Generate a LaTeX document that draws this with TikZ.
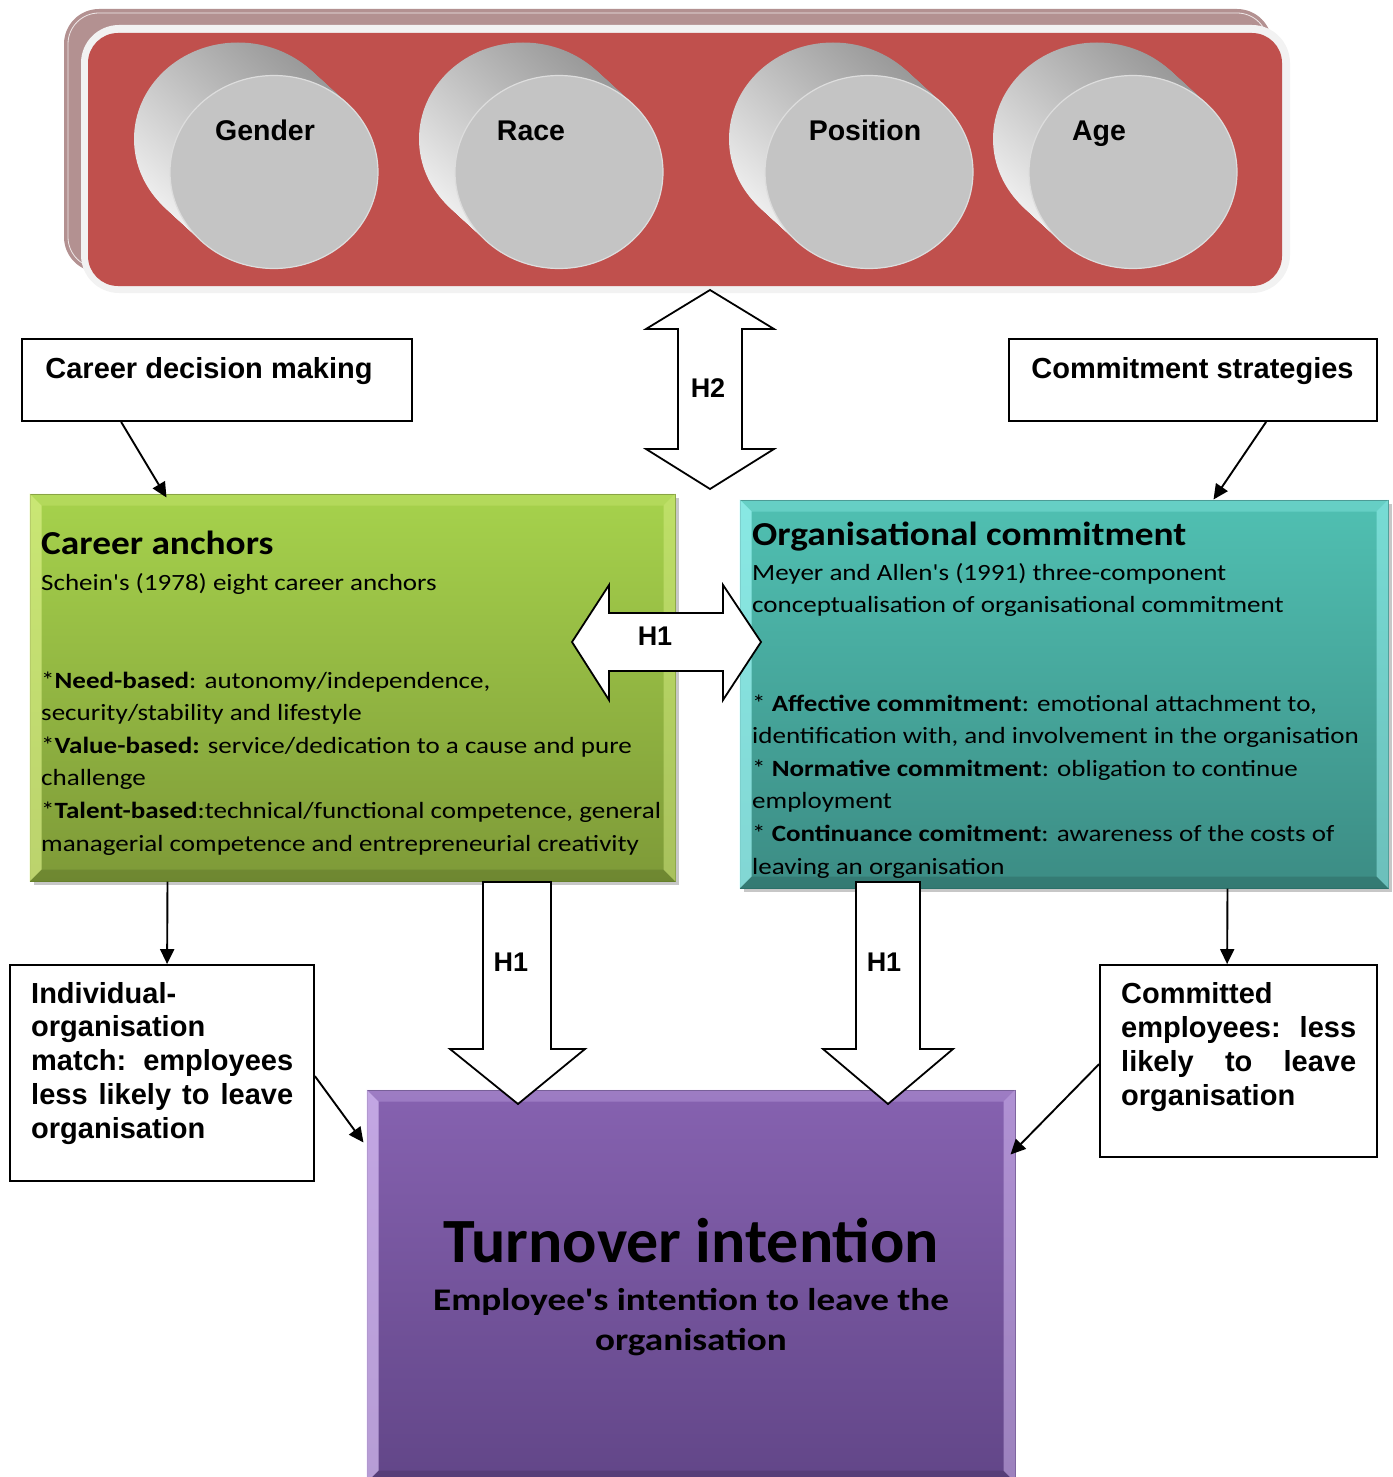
\documentclass[tikz,border=0pt]{standalone}
\usepackage{fontspec}
\usepackage{graphicx}
\setmainfont{Carlito}
\newfontfamily\arialfont{Liberation Sans}
\usetikzlibrary{arrows.meta,shapes.geometric}

\definecolor{bannerred}{HTML}{C0504D}
\definecolor{bannerback}{HTML}{B39191}
\definecolor{bannerrim}{HTML}{F2F2F2}
\definecolor{cyldark}{HTML}{9A9A9A}
\definecolor{cyllight}{HTML}{EEEEEE}
\definecolor{cylface}{HTML}{C4C4C4}
\definecolor{cylrim}{HTML}{DDDDDD}
\definecolor{greentop}{HTML}{A6D24C}
\definecolor{greenbot}{HTML}{7E9A38}
\definecolor{greenedge}{HTML}{6E8A2E}
\definecolor{greenlight}{HTML}{DDF28A}
\definecolor{tealtop}{HTML}{50C0B2}
\definecolor{tealbot}{HTML}{3C8C84}
\definecolor{tealedge}{HTML}{2F7A72}
\definecolor{teallight}{HTML}{A8FFFF}
\definecolor{purptop}{HTML}{8662B0}
\definecolor{purpbot}{HTML}{624688}
\definecolor{purpedge}{HTML}{553C78}
\definecolor{purplight}{HTML}{E4CCFF}

\newcommand\apos{\textquotesingle}

\tikzset{
  conn/.style={line width=1.9pt, -{Triangle[length=15pt,width=14pt]}},
  blockarrow/.style={fill=white, draw=black, line width=1.8pt, line join=miter},
  plainbox/.style={draw=black, line width=1.8pt, fill=white, inner sep=0pt},
  colbox/.style={rectangle, inner sep=0pt, line width=1pt},
  drumface/.style={ellipse, inner sep=0pt, minimum width=208pt, minimum height=193pt,
    fill=cylface, draw=cylrim, line width=1.2pt},
  drumlabel/.style={anchor=base, inner sep=0pt, font={\arialfont\bfseries\fontsize{28.5}{32}\selectfont}},
  boxlabel/.style={anchor=base, inner sep=0pt, font={\arialfont\bfseries\fontsize{29}{34}\selectfont}},
  hlabel/.style={inner sep=0pt, font={\arialfont\bfseries\fontsize{27}{30}\selectfont}},
  textblock/.style={anchor=base west, inner sep=0pt},
}

% body text of the coloured boxes, set a little wide
\newcommand\bodytext[1]{\scalebox{1.16}[1]{\parbox[t]{560pt}{\fontsize{23.3}{32.6}\selectfont #1}}}
\newcommand\titletext[1]{\scalebox{1.115}[1]{\bfseries\fontsize{33.5}{40}\selectfont #1}}

% a tilted grey drum: swept shaded ellipses, then the flat front face
\newcommand\drum[5]{%
  \foreach \t in {0,...,24}{%
    \shade[top color=cyldark, bottom color=cyllight, shading angle=-40]
      ({#1-36+1.5*\t},{#2-33+1.375*\t}) ellipse [x radius=104pt, y radius=96.5pt];
  }
  \node[drumface] (#3) at (#1,#2) {};
  \node[drumlabel] (#3-label) at (#5,140) {#4};
}

% bevelled edges of a coloured box node
\newcommand\bevel[3]{%
  \fill[#2, opacity=.65] (#1.north west) -- ([shift={(12,12)}]#1.north west)
     -- ([shift={(12,-12)}]#1.south west) -- (#1.south west) -- cycle;
  \fill[#2, opacity=.25] (#1.north west) -- (#1.north east)
     -- ([shift={(-12,12)}]#1.north east) -- ([shift={(12,12)}]#1.north west) -- cycle;
  \fill[#2, opacity=.45] (#1.north east) -- (#1.south east)
     -- ([shift={(-12,-12)}]#1.south east) -- ([shift={(-12,12)}]#1.north east) -- cycle;
  \fill[#3, opacity=.12] (#1.south west) -- (#1.south east)
     -- ([shift={(-12,-12)}]#1.south east) -- ([shift={(12,-12)}]#1.south west) -- cycle;
}

\begin{document}
\begin{tikzpicture}[x=1pt,y=-1pt]
\useasboundingbox (0,0) rectangle (1392,1477);

% ---- demographic banner ----
\fill[bannerback, rounded corners=35pt] (64,9) rectangle (1272,272);
\draw[white, opacity=.8, line width=0.8pt, rounded corners=31pt] (68,13) rectangle (1268,268);
\fill[bannerrim, rounded corners=38pt] (81,25) rectangle (1290,293);
\fill[bannerred, rounded corners=30pt] (88,33) rectangle (1282,286);

\drum{274}{172}{gender}{Gender}{265}
\drum{559}{172}{race}{Race}{531}
\drum{869}{172}{position}{Position}{865}
\drum{1133}{172}{age}{Age}{1099}

% ---- H2 double arrow ----
\draw[blockarrow] (710,290) -- (774,329) -- (742,329) -- (742,449) -- (774,449)
  -- (710,489) -- (646,449) -- (678,449) -- (678,329) -- (646,329) -- cycle;
\node[hlabel] (h2) at (708,388) {H2};

% ---- upper plain boxes ----
\node[plainbox, minimum width=390pt, minimum height=82pt] (cdm) at (217,380) {};
\node[boxlabel] (cdm-text) at (209,378) {Career decision making};
\node[plainbox, minimum width=368pt, minimum height=82pt] (cs) at (1193,380) {};
\node[boxlabel] (cs-text) at (1192.5,378) {Commitment strategies};

% ---- career anchors (green) ----
\fill[black, opacity=.22] (34,498) rectangle (679,885);
\node[colbox, minimum width=645pt, minimum height=387pt, top color=greentop,
  bottom color=greenbot, draw=greenedge] (anchors) at (352.5,687.5) {};
\bevel{anchors}{greenlight}{black}
\node[textblock] (anchors-title) at (41,554) {\titletext{Career anchors}};
\node[textblock] (anchors-sub) at (41,590) {\bodytext{Schein\apos s (1978) eight career anchors}};
\node[textblock] (anchors-body) at (41,688) {\bodytext{%
  *\textbf{Need-based}: autonomy/independence,\\{}%
  security/stability and lifestyle\\{}%
  *\textbf{Value-based:} service/dedication to a cause and pure\\{}%
  challenge\\{}%
  *\textbf{Talent-based}:technical/functional competence, general\\{}%
  managerial competence and entrepreneurial creativity}};

% ---- organisational commitment (teal) ----
\fill[black, opacity=.22] (744,504) rectangle (1392,892);
\node[colbox, minimum width=648pt, minimum height=388pt, top color=tealtop,
  bottom color=tealbot, draw=tealedge] (commitment) at (1064,694) {};
\bevel{commitment}{teallight}{black}
\node[textblock] (commitment-title) at (752,545) {\titletext{Organisational commitment}};
\node[textblock] (commitment-sub) at (752,580) {\bodytext{%
  Meyer and Allen\apos s (1991) three-component\\{}%
  conceptualisation of organisational commitment}};
\node[textblock] (commitment-body) at (752,711) {\bodytext{%
  * \textbf{Affective commitment}: emotional attachment to,\\{}%
  identification with, and involvement in the organisation\\{}%
  * \textbf{Normative commitment}: obligation to continue\\{}%
  employment\\{}%
  * \textbf{Continuance comitment}: awareness of the costs of\\{}%
  leaving an organisation}};

% ---- H1 horizontal double arrow ----
\draw[blockarrow] (572,642) -- (609,585) -- (609,613) -- (723,613) -- (723,585)
  -- (761,642) -- (723,700) -- (723,671) -- (609,671) -- (609,700) -- cycle;
\node[hlabel] (h1-mid) at (655,636) {H1};

% ---- turnover intention (purple) ----
\node[colbox, minimum width=648pt, minimum height=392pt, top color=purptop,
  bottom color=purpbot, draw=purpedge] (turnover) at (691,1286) {};
\bevel{turnover}{purplight}{black}
\node[anchor=base, inner sep=0pt] (turnover-title) at (691,1262)
  {\scalebox{1.015}[1]{\bfseries\fontsize{63}{70}\selectfont Turnover intention}};
\node[anchor=base, inner sep=0pt] (turnover-sub) at (691,1310)
  {\scalebox{1.18}[1]{\parbox[t]{520pt}{\centering\bfseries\fontsize{31.5}{40}\selectfont
  Employee\apos s intention to leave the\\ organisation}}};

% ---- H1 downward arrows ----
\draw[blockarrow] (483,882) -- (551,882) -- (551,1049) -- (585,1049) -- (518,1104)
  -- (450,1049) -- (483,1049) -- cycle;
\node[hlabel] (h1-left) at (511,962) {H1};
\draw[blockarrow] (856,882) -- (920,882) -- (920,1049) -- (953,1049) -- (888,1104)
  -- (823,1049) -- (856,1049) -- cycle;
\node[hlabel] (h1-right) at (884,962) {H1};

% ---- lower plain boxes ----
\node[plainbox, minimum width=304pt, minimum height=216pt] (indiv) at (162,1073) {};
\node[textblock] (indiv-text) at (31,1003) {\parbox[t]{262pt}{\arialfont\bfseries\fontsize{29}{33.8}\selectfont
  Individual-\\
  organisation\\
  \makebox[262pt][s]{match:  employees}\\
  \makebox[262pt][s]{less likely to leave}\\
  organisation}};
\node[plainbox, minimum width=277pt, minimum height=192pt] (committed) at (1238.5,1061) {};
\node[textblock] (committed-text) at (1121,1003) {\parbox[t]{235pt}{\arialfont\bfseries\fontsize{29}{34}\selectfont
  Committed\\
  \makebox[235pt][s]{employees:  less}\\
  \makebox[235pt][s]{likely  to  leave}\\
  organisation}};

% ---- connectors ----
\draw[conn] ([xshift=100pt]cdm.south west) -- ([xshift=137pt,yshift=-4pt]anchors.north west);
\draw[conn] ([xshift=258pt]cs.south west) -- ([xshift=474pt]commitment.north west);
\draw[conn] ([xshift=138pt]anchors.south west) -- ([xshift=158pt]indiv.north west);
\draw[conn] ([xshift=488pt]commitment.south west) -- ([xshift=128pt]committed.north west);
\draw[conn] ([yshift=-112pt]indiv.north east) -- ([yshift=-53pt,xshift=-3pt]turnover.north west);
\draw[conn] ([yshift=-100pt]committed.north west) -- ([yshift=-65pt,xshift=-5pt]turnover.north east);
\end{tikzpicture}
\end{document}
